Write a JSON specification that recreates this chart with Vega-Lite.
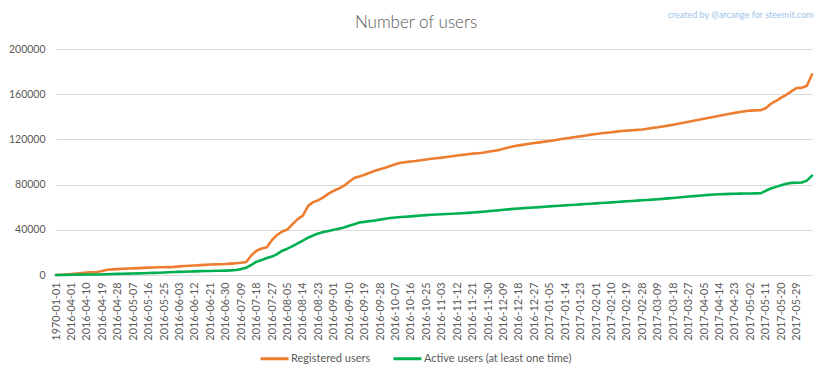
{
  "$schema": "https://vega.github.io/schema/vega-lite/v6.json",
  "autosize": "none",
  "width": 756,
  "height": 226,
  "padding": {"left": 56, "top": 49, "right": 20, "bottom": 104},
  "background": "white",
  "config": {
    "view": {"stroke": null},
    "font": "Lato"
  },
  "title": {
    "text": "Number of users",
    "font": "Lato",
    "fontSize": 17,
    "fontWeight": 300,
    "color": "#595959",
    "anchor": "middle",
    "dx": -18,
    "dy": 22,
    "offset": 0
  },
  "data": {
    "values": [
      {"date":"1970-01-01","Registered":0,"Active":0},
      {"date":"2016-03-26","Registered":200,"Active":50},
      {"date":"2016-03-29","Registered":500,"Active":100},
      {"date":"2016-04-01","Registered":900,"Active":200},
      {"date":"2016-04-04","Registered":1300,"Active":300},
      {"date":"2016-04-07","Registered":1800,"Active":350},
      {"date":"2016-04-10","Registered":2200,"Active":400},
      {"date":"2016-04-13","Registered":2400,"Active":450},
      {"date":"2016-04-16","Registered":2600,"Active":500},
      {"date":"2016-04-19","Registered":3500,"Active":550},
      {"date":"2016-04-22","Registered":4600,"Active":700},
      {"date":"2016-04-25","Registered":5000,"Active":900},
      {"date":"2016-04-28","Registered":5200,"Active":1000},
      {"date":"2016-05-01","Registered":5500,"Active":1100},
      {"date":"2016-05-04","Registered":5700,"Active":1200},
      {"date":"2016-05-07","Registered":5900,"Active":1300},
      {"date":"2016-05-10","Registered":6100,"Active":1400},
      {"date":"2016-05-13","Registered":6300,"Active":1600},
      {"date":"2016-05-16","Registered":6500,"Active":1800},
      {"date":"2016-05-19","Registered":6700,"Active":1900},
      {"date":"2016-05-22","Registered":6800,"Active":2000},
      {"date":"2016-05-25","Registered":6900,"Active":2200},
      {"date":"2016-05-28","Registered":7000,"Active":2400},
      {"date":"2016-05-31","Registered":7200,"Active":2600},
      {"date":"2016-06-03","Registered":7600,"Active":2800},
      {"date":"2016-06-06","Registered":7900,"Active":2900},
      {"date":"2016-06-09","Registered":8200,"Active":3100},
      {"date":"2016-06-12","Registered":8400,"Active":3200},
      {"date":"2016-06-15","Registered":8700,"Active":3400},
      {"date":"2016-06-18","Registered":9000,"Active":3500},
      {"date":"2016-06-21","Registered":9300,"Active":3600},
      {"date":"2016-06-24","Registered":9400,"Active":3700},
      {"date":"2016-06-27","Registered":9500,"Active":3800},
      {"date":"2016-06-30","Registered":9800,"Active":3900},
      {"date":"2016-07-03","Registered":10100,"Active":4100},
      {"date":"2016-07-06","Registered":10400,"Active":4400},
      {"date":"2016-07-09","Registered":10800,"Active":5200},
      {"date":"2016-07-12","Registered":11500,"Active":6500},
      {"date":"2016-07-15","Registered":17500,"Active":9000},
      {"date":"2016-07-18","Registered":21500,"Active":11800},
      {"date":"2016-07-21","Registered":23500,"Active":13300},
      {"date":"2016-07-24","Registered":24600,"Active":15000},
      {"date":"2016-07-27","Registered":31000,"Active":16300},
      {"date":"2016-07-30","Registered":35500,"Active":18500},
      {"date":"2016-08-02","Registered":38500,"Active":21500},
      {"date":"2016-08-05","Registered":40300,"Active":23300},
      {"date":"2016-08-08","Registered":45000,"Active":25500},
      {"date":"2016-08-11","Registered":49500,"Active":28000},
      {"date":"2016-08-14","Registered":52500,"Active":30500},
      {"date":"2016-08-17","Registered":61000,"Active":33000},
      {"date":"2016-08-20","Registered":64500,"Active":35000},
      {"date":"2016-08-23","Registered":66200,"Active":36800},
      {"date":"2016-08-26","Registered":68700,"Active":38000},
      {"date":"2016-08-29","Registered":72000,"Active":39000},
      {"date":"2016-09-01","Registered":74500,"Active":40000},
      {"date":"2016-09-04","Registered":76500,"Active":41000},
      {"date":"2016-09-07","Registered":79000,"Active":42000},
      {"date":"2016-09-10","Registered":82500,"Active":43500},
      {"date":"2016-09-13","Registered":85800,"Active":45000},
      {"date":"2016-09-16","Registered":87200,"Active":46400},
      {"date":"2016-09-19","Registered":88800,"Active":47000},
      {"date":"2016-09-22","Registered":90500,"Active":47700},
      {"date":"2016-09-25","Registered":92200,"Active":48200},
      {"date":"2016-09-28","Registered":93500,"Active":49000},
      {"date":"2016-10-01","Registered":95000,"Active":49800},
      {"date":"2016-10-04","Registered":96500,"Active":50400},
      {"date":"2016-10-07","Registered":98000,"Active":50900},
      {"date":"2016-10-10","Registered":99400,"Active":51300},
      {"date":"2016-10-13","Registered":99900,"Active":51600},
      {"date":"2016-10-16","Registered":100400,"Active":51900},
      {"date":"2016-10-19","Registered":100900,"Active":52300},
      {"date":"2016-10-22","Registered":101600,"Active":52700},
      {"date":"2016-10-25","Registered":102200,"Active":53000},
      {"date":"2016-10-28","Registered":102800,"Active":53300},
      {"date":"2016-10-31","Registered":103300,"Active":53500},
      {"date":"2016-11-03","Registered":103900,"Active":53700},
      {"date":"2016-11-06","Registered":104500,"Active":54000},
      {"date":"2016-11-09","Registered":105100,"Active":54200},
      {"date":"2016-11-12","Registered":105700,"Active":54400},
      {"date":"2016-11-15","Registered":106300,"Active":54700},
      {"date":"2016-11-18","Registered":106900,"Active":55000},
      {"date":"2016-11-21","Registered":107400,"Active":55300},
      {"date":"2016-11-24","Registered":107800,"Active":55600},
      {"date":"2016-11-27","Registered":108200,"Active":56000},
      {"date":"2016-11-30","Registered":109000,"Active":56400},
      {"date":"2016-12-03","Registered":109800,"Active":56800},
      {"date":"2016-12-06","Registered":110500,"Active":57200},
      {"date":"2016-12-09","Registered":111700,"Active":57700},
      {"date":"2016-12-12","Registered":112900,"Active":58100},
      {"date":"2016-12-15","Registered":114000,"Active":58500},
      {"date":"2016-12-18","Registered":114700,"Active":58800},
      {"date":"2016-12-21","Registered":115400,"Active":59200},
      {"date":"2016-12-24","Registered":116100,"Active":59500},
      {"date":"2016-12-27","Registered":116800,"Active":59800},
      {"date":"2016-12-30","Registered":117400,"Active":60100},
      {"date":"2017-01-02","Registered":118000,"Active":60400},
      {"date":"2017-01-05","Registered":118600,"Active":60700},
      {"date":"2017-01-08","Registered":119300,"Active":61000},
      {"date":"2017-01-11","Registered":120100,"Active":61300},
      {"date":"2017-01-14","Registered":120800,"Active":61600},
      {"date":"2017-01-17","Registered":121500,"Active":61900},
      {"date":"2017-01-20","Registered":122100,"Active":62200},
      {"date":"2017-01-23","Registered":122700,"Active":62500},
      {"date":"2017-01-26","Registered":123400,"Active":62800},
      {"date":"2017-01-29","Registered":124200,"Active":63100},
      {"date":"2017-02-01","Registered":124800,"Active":63400},
      {"date":"2017-02-04","Registered":125400,"Active":63700},
      {"date":"2017-02-07","Registered":125900,"Active":64000},
      {"date":"2017-02-10","Registered":126400,"Active":64300},
      {"date":"2017-02-13","Registered":126900,"Active":64600},
      {"date":"2017-02-16","Registered":127400,"Active":64900},
      {"date":"2017-02-19","Registered":127800,"Active":65200},
      {"date":"2017-02-22","Registered":128100,"Active":65500},
      {"date":"2017-02-25","Registered":128400,"Active":65800},
      {"date":"2017-02-28","Registered":128800,"Active":66100},
      {"date":"2017-03-03","Registered":129500,"Active":66400},
      {"date":"2017-03-06","Registered":130200,"Active":66700},
      {"date":"2017-03-09","Registered":130700,"Active":67000},
      {"date":"2017-03-12","Registered":131400,"Active":67400},
      {"date":"2017-03-15","Registered":132200,"Active":67800},
      {"date":"2017-03-18","Registered":133000,"Active":68200},
      {"date":"2017-03-21","Registered":133800,"Active":68600},
      {"date":"2017-03-24","Registered":134700,"Active":69000},
      {"date":"2017-03-27","Registered":135600,"Active":69400},
      {"date":"2017-03-30","Registered":136500,"Active":69800},
      {"date":"2017-04-02","Registered":137400,"Active":70200},
      {"date":"2017-04-05","Registered":138300,"Active":70600},
      {"date":"2017-04-08","Registered":139200,"Active":70900},
      {"date":"2017-04-11","Registered":140100,"Active":71200},
      {"date":"2017-04-14","Registered":141000,"Active":71400},
      {"date":"2017-04-17","Registered":141900,"Active":71600},
      {"date":"2017-04-20","Registered":142700,"Active":71800},
      {"date":"2017-04-23","Registered":143500,"Active":71900},
      {"date":"2017-04-26","Registered":144200,"Active":72000},
      {"date":"2017-04-29","Registered":144900,"Active":72100},
      {"date":"2017-05-02","Registered":145500,"Active":72100},
      {"date":"2017-05-05","Registered":145700,"Active":72200},
      {"date":"2017-05-08","Registered":145800,"Active":72300},
      {"date":"2017-05-11","Registered":147500,"Active":74500},
      {"date":"2017-05-14","Registered":151500,"Active":76500},
      {"date":"2017-05-17","Registered":154000,"Active":78000},
      {"date":"2017-05-20","Registered":157000,"Active":79500},
      {"date":"2017-05-23","Registered":159500,"Active":80800},
      {"date":"2017-05-26","Registered":162500,"Active":81500},
      {"date":"2017-05-29","Registered":165500,"Active":81700},
      {"date":"2017-06-01","Registered":165600,"Active":81800},
      {"date":"2017-06-04","Registered":167500,"Active":83500},
      {"date":"2017-06-07","Registered":177500,"Active":88000}
    ]
  },
  "encoding": {
    "x": {
      "field": "date",
      "type": "ordinal",
      "sort": null,
      "scale": {"type": "point", "padding": 0},
      "axis": {
        "title": null,
        "values": ["1970-01-01","2016-04-01","2016-04-10","2016-04-19","2016-04-28","2016-05-07","2016-05-16","2016-05-25","2016-06-03","2016-06-12","2016-06-21","2016-06-30","2016-07-09","2016-07-18","2016-07-27","2016-08-05","2016-08-14","2016-08-23","2016-09-01","2016-09-10","2016-09-19","2016-09-28","2016-10-07","2016-10-16","2016-10-25","2016-11-03","2016-11-12","2016-11-21","2016-11-30","2016-12-09","2016-12-18","2016-12-27","2017-01-05","2017-01-14","2017-01-23","2017-02-01","2017-02-10","2017-02-19","2017-02-28","2017-03-09","2017-03-18","2017-03-27","2017-04-05","2017-04-14","2017-04-23","2017-05-02","2017-05-11","2017-05-20","2017-05-29"],
        "labelAngle": -90,
        "labelFont": "Lato",
        "labelFontSize": 10.8,
        "labelColor": "#595959",
        "labelPadding": 7,
        "labelOverlap": false,
        "ticks": false,
        "tickSize": 0,
        "grid": false,
        "domain": true,
        "domainColor": "#D9D9D9",
        "domainWidth": 1
      }
    }
  },
  "layer": [
    {
      "mark": {"type": "line", "strokeWidth": 2.6, "strokeJoin": "round", "strokeCap": "round"},
      "encoding": {
        "y": {
          "field": "Registered",
          "type": "quantitative",
          "scale": {"domain": [0, 200000], "nice": false},
          "axis": {
            "values": [0,20000,40000,60000,80000,100000,120000,140000,160000,180000,200000],
            "format": "d",
            "labelFont": "Lato",
            "labelFontSize": 10.5,
            "labelColor": "#595959",
            "labelPadding": 11,
            "ticks": false,
            "tickSize": 0,
            "domain": false,
            "grid": true,
            "gridColor": "#D9D9D9",
            "gridWidth": 1,
            "title": "created by @arcange for steemit.com",
            "titleAngle": 0,
            "titleAlign": "right",
            "titleBaseline": "middle",
            "titleX": 757,
            "titleY": -35,
            "titleFont": "Lato",
            "titleFontSize": 9,
            "titleFontWeight": "normal",
            "titleColor": "#9DC3E6"
          }
        },
        "color": {
          "datum": "Registered users",
          "type": "nominal",
          "scale": {
            "domain": ["Registered users", "Active users (at least one time)"],
            "range": ["#ED7D31", "#00B050"]
          },
          "legend": {
            "title": null,
            "orient": "none",
            "direction": "horizontal",
            "legendX": 203,
            "legendY": 294,
            "symbolType": "stroke",
            "symbolSize": 784,
            "symbolStrokeWidth": 3,
            "labelFont": "Lato",
            "labelFontSize": 11,
            "labelColor": "#595959",
            "labelOffset": 1,
            "columnPadding": 16
          }
        }
      }
    },
    {
      "mark": {"type": "line", "strokeWidth": 2.6, "strokeJoin": "round", "strokeCap": "round"},
      "encoding": {
        "y": {"field": "Active", "type": "quantitative"},
        "color": {"datum": "Active users (at least one time)", "type": "nominal"}
      }
    }
  ]
}
